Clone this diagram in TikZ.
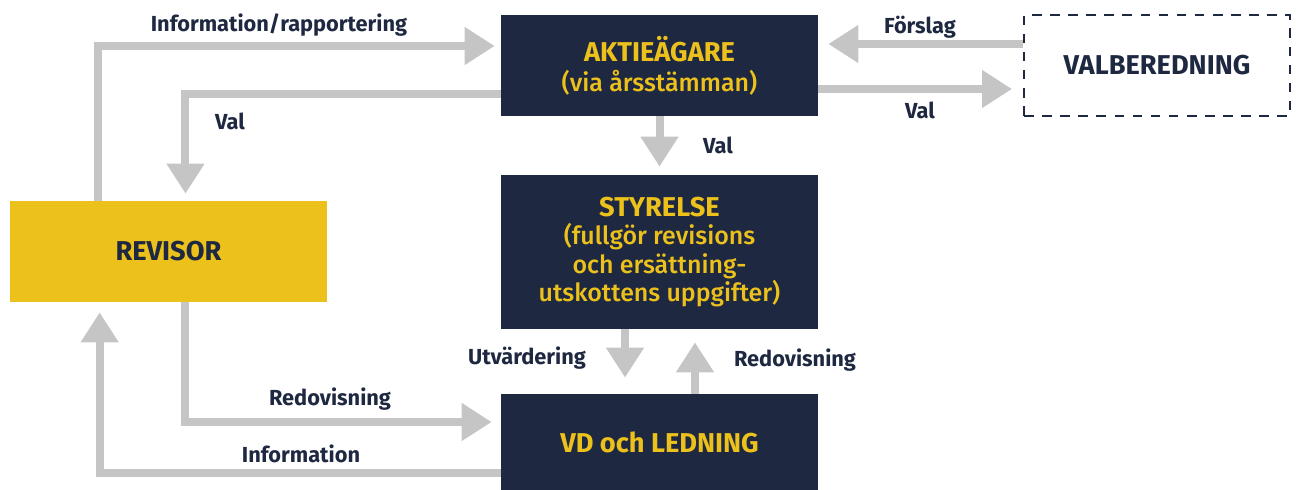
\documentclass[tikz,border=0pt]{standalone}
\usepackage{fontspec}
\setmainfont{Fira Sans}
\newfontfamily\medel{Fira Sans Medium}
\usepackage{tikz}
\usetikzlibrary{arrows.meta}
\usetikzlibrary{shapes,positioning}

\definecolor{navy}{HTML}{1E2841}
\definecolor{gul}{HTML}{ECC11B}
\definecolor{gra}{HTML}{C4C5C4}

\tikzset{
organ/.style={fill=navy,text=gul,align=center,minimum width=6.34cm,font=\fontsize{14.2}{16}\selectfont\medel,inner sep=0pt},
flode/.style={draw=gra,line width=0.16cm,-{Triangle[width=0.72cm,length=0.6cm]}},
etikett/.style={text=navy,font=\fontsize{12.4}{14}\selectfont\bfseries}
}
\newcommand{\rubrik}[1]{{\fontsize{15.5}{16}\selectfont\rmfamily\bfseries #1}}

\begin{document}
\begin{tikzpicture}[x=0.02cm,y=-0.02cm]
\useasboundingbox (0,0) rectangle (1296,490);

\node[organ,minimum height=2.02cm] (akt) at (659.5,65.5) {\rubrik{AKTIEÄGARE}\\[1pt](via årsstämman)};
\node[organ,minimum height=3.08cm] (sty) at (659.5,252) {\rubrik{STYRELSE}\\(fullgör revisions\\och ersättning-\\utskottens uppgifter)};
\node[organ,minimum height=1.92cm] (vd) at (659.5,442) {\rubrik{VD och LEDNING}};
\node[organ,fill=gul,text=navy,minimum height=2.02cm] (rev) at (168.5,251.5) {\rubrik{REVISOR}};
\node[draw=navy,line width=1.1pt,dash pattern=on 5.5pt off 4.8pt,text=navy,minimum width=5.32cm,minimum height=2.02cm,font=\fontsize{15.5}{16}\selectfont\bfseries] (val) at (1157,65.5) {VALBEREDNING};

% pilar
\draw[flode] ([xshift=1.76cm]rev.north west) |- ([xshift=-0.12cm,yshift=0.39cm]akt.west);
\draw[flode] ([yshift=-0.57cm]akt.west) -| ([xshift=0.34cm,yshift=0.14cm]rev.north);
\draw[flode] (akt.south) -- ([yshift=0.16cm]sty.north);
\draw[flode] ([yshift=0.43cm]val.west) -- ([xshift=0.2cm,yshift=0.43cm]akt.east);
\draw[flode] ([yshift=-0.47cm]akt.east) -- ([xshift=-0.22cm,yshift=-0.47cm]val.west);
\draw[flode] ([xshift=-0.69cm]sty.south) -- ([xshift=-0.69cm,yshift=0.32cm]vd.north);
\draw[flode] ([xshift=0.71cm]vd.north) -- ([xshift=0.71cm,yshift=-0.26cm]sty.south);
\draw[flode] ([xshift=0.34cm]rev.south) |- ([xshift=-0.18cm,yshift=0.4cm]vd.west);
\draw[flode] ([yshift=-0.62cm]vd.west) -| ([xshift=1.8cm,yshift=-0.2cm]rev.south west);

\foreach \n/\x/\y/\t in
{
info1/279/25/Information\slash rapportering, val1/230/121/Val,
val2/718/145/Val, forslag/920/27/Förslag,
val3/920/110/Val, utv/527/358/Utvärdering,
red1/795/360/Redovisning, red2/330/399/Redovisning,
info2/301/454/Information
}
{
\node[etikett] (\n) at (\x,\y) {\t};
}
\end{tikzpicture}
\end{document}
